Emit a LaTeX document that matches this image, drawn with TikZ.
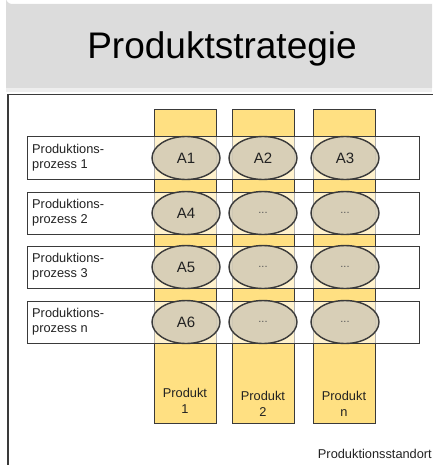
\documentclass[tikz,border=0pt]{standalone}
\usepackage{fontspec}
\setmainfont{Liberation Sans}
\usetikzlibrary{shapes.geometric}
\definecolor{hdr}{HTML}{DCDCDC}
\definecolor{hdrstrip}{HTML}{EEEEEE}
\definecolor{frm}{HTML}{3A3A3A}
\definecolor{colfill}{HTML}{FFE082}
\definecolor{ellfill}{HTML}{D3CBB5}
\definecolor{txt}{HTML}{222222}
\definecolor{dotc}{HTML}{555555}
\tikzset{
  colbox/.style={draw=frm, line width=1pt, fill=colfill},
  rowbox/.style={draw=frm, line width=1pt, fill=white, fill opacity=0.6, draw opacity=1},
  cell/.style={ellipse, draw=frm, line width=1.4pt, fill=ellfill, fill opacity=0.88, draw opacity=1, text opacity=1,
    minimum width=68pt, minimum height=43pt, inner sep=0pt, font=\fontsize{15}{17}\selectfont, text=txt},
  dots/.style={cell, font=\fontsize{11}{12}\selectfont, text=dotc},
  rowlabel/.style={anchor=west, align=left, font=\fontsize{12.8}{15}\selectfont, text=txt, inner sep=0pt},
  collabel/.style={align=center, font=\fontsize{12.8}{15.5}\selectfont, text=txt, inner sep=0pt},
}
\begin{document}
\begin{tikzpicture}[x=1pt,y=-1pt]
\useasboundingbox (0,0) rectangle (432,465);
% header
\fill[hdr] (432,4) -- (12,4) arc[start angle=90,end angle=180,radius=6] -- (6,88) -- (432,88) -- cycle;
\fill[hdrstrip] (6,88) rectangle (432,92);
\node[font=\fontsize{37}{40}\selectfont, inner sep=0pt] (title) at (222,49) {Produktstrategie};
% frame
\draw[frm, line width=1.5pt] (8,470) -- (8,94.5) -- (433,94.5);
% columns
\foreach \n/\x in {1/154, 2/232, 3/313} {
  \draw[colbox] (\x,110) rectangle ++(62,313) coordinate (c\n);
}
% rows
\foreach \n/\y in {1/137, 2/192, 3/246, 4/301} {
  \draw[rowbox] (27,\y) rectangle ++(392,42) coordinate (r\n);
}
% row labels
\node[rowlabel] (l1) at (32,158) {Produktions-\\prozess 1};
\node[rowlabel] (l2) at (32,213) {Produktions-\\prozess 2};
\node[rowlabel] (l3) at (32,267) {Produktions-\\prozess 3};
\node[rowlabel] (l4) at (32,322) {Produktions-\\prozess n};
% cells
\node[cell] (a1) at (186,158) {A1};
\node[cell] (a2) at (263,158) {A2};
\node[cell] (a3) at (345,158) {A3};
\node[cell] (a4) at (186,213) {A4};
\node[dots] (d22) at (263,213) {...};
\node[dots] (d23) at (345,213) {...};
\node[cell] (a5) at (186,267) {A5};
\node[dots] (d32) at (263,267) {...};
\node[dots] (d33) at (345,267) {...};
\node[cell] (a6) at (186,322) {A6};
\node[dots] (d42) at (263,322) {...};
\node[dots] (d43) at (345,322) {...};
% column labels
\node[collabel] (p1) at (185,401) {Produkt\\1};
\node[collabel] (p2) at (263,404) {Produkt\\2};
\node[collabel] (p3) at (344,404) {Produkt\\n};
% site label
\node[anchor=east, font=\fontsize{12.8}{15}\selectfont, text=txt, inner sep=0pt] (site) at (432,454) {Produktionsstandort};
\end{tikzpicture}
\end{document}
